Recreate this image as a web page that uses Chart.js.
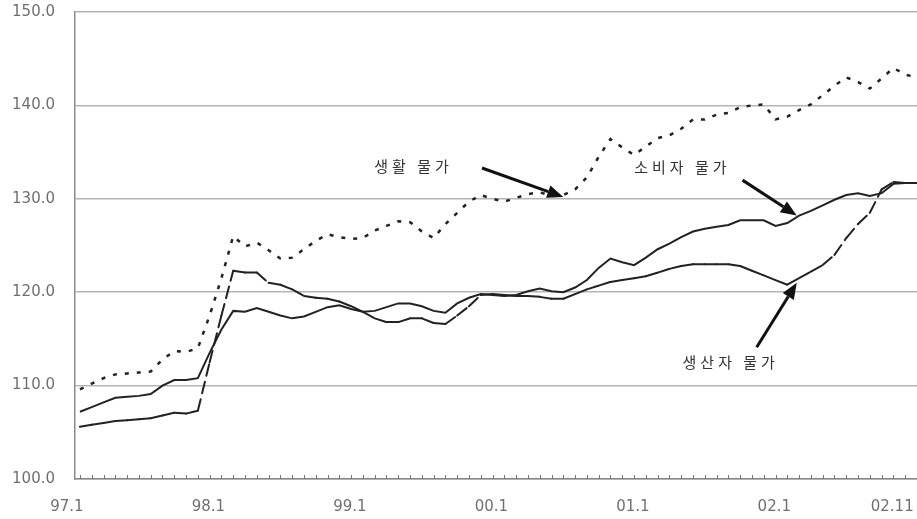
<!DOCTYPE html>
<html>
<head>
<meta charset="utf-8">
<script src="https://cdn.jsdelivr.net/npm/chart.js@4.4.1/dist/chart.umd.min.js"></script>
<style>
  html, body { margin: 0; padding: 0; background: #fff; }
  #wrap { width: 917px; height: 519px; }
</style>
</head>
<body>
<div id="wrap"><canvas id="priceChart"></canvas></div>
<script>
/* monthly price indexes, 97.1 - 02.12 */

const years = ['97', '98', '99', '00', '01', '02'];
const months = [];
years.forEach(yy => { for (let m = 1; m <= 12; m++) months.push(yy + '.' + m); });

const tickMonths = ['97.1', '98.1', '99.1', '00.1', '01.1', '02.1', '02.11'];

// 생활 물가 (dotted)
const livingPrices = [
  109.6, 110.2, 110.8, 111.2, 111.3, 111.4, 111.5, 112.8, 113.7, 113.6, 114.0, 117.5,
  121.5, 126.0, 124.9, 125.3, 124.5, 123.6, 123.7, 124.6, 125.5, 126.2, 125.9, 125.7,
  125.8, 126.6, 127.1, 127.6, 127.5, 126.5, 125.8, 127.3, 128.5, 129.7, 130.4, 130.0,
  129.7, 130.1, 130.5, 130.7, 130.3, 130.4, 131.0, 132.3, 134.5, 136.4, 135.5, 134.7,
  135.6, 136.5, 136.8, 137.5, 138.5, 138.5, 139.0, 139.2, 139.8, 140.0, 140.1, 138.5,
  138.8, 139.5, 140.1, 141.1, 142.1, 143.0, 142.5, 141.8, 142.9, 144.0, 143.3, 143.0
];

// 소비자 물가 (solid)
const consumerPrices = [
  107.2, 107.7, 108.2, 108.7, 108.8, 108.9, 109.1, 110.0, 110.6, 110.6, 110.8, 113.5,
  116.0, 118.0, 117.9, 118.3, 117.9, 117.5, 117.2, 117.4, 117.9, 118.4, 118.6, 118.2,
  117.9, 118.0, 118.4, 118.8, 118.8, 118.5, 118.0, 117.8, 118.8, 119.4, 119.8, 119.7,
  119.6, 119.7, 120.1, 120.4, 120.1, 120.0, 120.5, 121.3, 122.6, 123.6, 123.2, 122.9,
  123.7, 124.6, 125.2, 125.9, 126.5, 126.8, 127.0, 127.2, 127.7, 127.7, 127.7, 127.1,
  127.4, 128.2, 128.7, 129.3, 129.9, 130.4, 130.6, 130.3, 130.6, 131.6, 131.7, 131.7
];

// 생산자 물가 (long dash)
const producerPrices = [
  105.6, 105.8, 106.0, 106.2, 106.3, 106.4, 106.5, 106.8, 107.1, 107.0, 107.3, 112.5,
  117.5, 122.3, 122.1, 122.1, 121.0, 120.8, 120.3, 119.6, 119.4, 119.3, 119.0, 118.5,
  117.9, 117.2, 116.8, 116.8, 117.2, 117.2, 116.7, 116.6, 117.5, 118.5, 119.7, 119.8,
  119.7, 119.6, 119.6, 119.5, 119.3, 119.3, 119.8, 120.3, 120.7, 121.1, 121.3, 121.5,
  121.7, 122.1, 122.5, 122.8, 123.0, 123.0, 123.0, 123.0, 122.8, 122.3, 121.8, 121.3,
  120.8, 121.5, 122.2, 122.9, 124.0, 125.8, 127.3, 128.5, 131.0, 131.8, 131.7, 131.7
];

// callout texts and arrows, in (month index, index value)
const notes = [
  { text: '생활 물가', at: [28.3, 133.5], from: [34.1, 133.3], to: [41.0, 130.2] },
  { text: '소비자 물가', at: [51.1, 133.4], from: [56.2, 132.0], to: [60.8, 128.2] },
  { text: '생산자 물가', at: [55.2, 112.5], from: [57.4, 114.1], to: [60.8, 121.0] }
];

const toPoints = arr => arr.map((v, i) => ({ x: i, y: v }));

// small month ticks on the bottom axis + callouts
const extrasPlugin = {
  id: 'extras',
  afterDatasetsDraw(chart) {
    const { ctx, scales: { x, y } } = chart;
    ctx.save();
    ctx.strokeStyle = '#777';
    ctx.lineWidth = 1;
    months.forEach((m, i) => {
      const px = Math.round(x.getPixelForValue(i)) + 0.5;
      ctx.beginPath();
      ctx.moveTo(px, y.bottom - 4);
      ctx.lineTo(px, y.bottom);
      ctx.stroke();
    });

    ctx.fillStyle = '#333';
    ctx.font = '15px "Noto Sans CJK KR", sans-serif';
    ctx.letterSpacing = '4px';
    ctx.textAlign = 'center';
    ctx.textBaseline = 'middle';
    notes.forEach(n => {
      ctx.fillText(n.text, x.getPixelForValue(n.at[0]), y.getPixelForValue(n.at[1]));

      const x0 = x.getPixelForValue(n.from[0]), y0 = y.getPixelForValue(n.from[1]);
      const x1 = x.getPixelForValue(n.to[0]), y1 = y.getPixelForValue(n.to[1]);
      const ang = Math.atan2(y1 - y0, x1 - x0);
      const head = 16, half = 6.5;
      const bx = x1 - head * Math.cos(ang), by = y1 - head * Math.sin(ang);
      ctx.strokeStyle = '#111';
      ctx.lineWidth = 3;
      ctx.beginPath();
      ctx.moveTo(x0, y0);
      ctx.lineTo(bx, by);
      ctx.stroke();
      ctx.fillStyle = '#111';
      ctx.beginPath();
      ctx.moveTo(x1, y1);
      ctx.lineTo(bx + half * Math.sin(ang), by - half * Math.cos(ang));
      ctx.lineTo(bx - half * Math.sin(ang), by + half * Math.cos(ang));
      ctx.closePath();
      ctx.fill();
      ctx.fillStyle = '#333';
    });
    ctx.restore();
  }
};

new Chart(document.getElementById('priceChart'), {
  type: 'line',
  data: {
    datasets: [
      {
        label: '생활 물가',
        data: toPoints(livingPrices),
        borderColor: '#222',
        borderWidth: 2.5,
        borderDash: [4, 8],
        pointRadius: 0,
        tension: 0
      },
      {
        label: '소비자 물가',
        data: toPoints(consumerPrices),
        borderColor: '#222',
        borderWidth: 2,
        pointRadius: 0,
        tension: 0
      },
      {
        label: '생산자 물가',
        data: toPoints(producerPrices),
        borderColor: '#222',
        borderWidth: 2,
        borderDash: [12, 6],
        borderCapStyle: 'round',
        pointRadius: 0,
        tension: 0,
        // restart the dash on every month so short flat pieces stay solid
        segment: {
          borderDashOffset: ctx => (ctx.p0DataIndex % 2) * 0.01
        }
      }
    ]
  },
  options: {
    responsive: true,
    maintainAspectRatio: false,
    animation: false,
    devicePixelRatio: 1,
    layout: { padding: { top: 12, right: 0, left: 0, bottom: 0 } },
    plugins: {
      legend: { display: false },
      tooltip: { enabled: false }
    },
    scales: {
      x: {
        type: 'linear',
        min: -0.42,
        max: 71,
        afterBuildTicks: scale => {
          scale.ticks = tickMonths.map(m => ({ value: months.indexOf(m) }));
        },
        afterFit: scale => {
          scale.height = 40;
          scale.paddingLeft = 0;
          scale.paddingRight = 0;
        },
        grid: { display: false, drawTicks: false },
        border: { display: true, color: '#8a8a8a', width: 1.5 },
        ticks: {
          autoSkip: false,
          maxRotation: 0,
          padding: 19,
          labelOffset: -13,
          color: '#707070',
          font: { family: 'DejaVu Sans', size: 15 },
          callback: value => months[value]
        }
      },
      y: {
        min: 100,
        max: 150,
        afterFit: scale => {
          scale.width = 75;
          scale.paddingTop = 0;
          scale.paddingBottom = 0;
        },
        grid: { color: '#b5b5b5', lineWidth: 1.5, drawTicks: false },
        border: { display: true, color: '#8a8a8a', width: 1.5 },
        ticks: {
          stepSize: 10,
          padding: 20,
          color: '#707070',
          font: { family: 'DejaVu Sans', size: 15 },
          callback: v => v.toFixed(1)
        }
      }
    }
  },
  plugins: [extrasPlugin]
});
</script>
</body>
</html>
